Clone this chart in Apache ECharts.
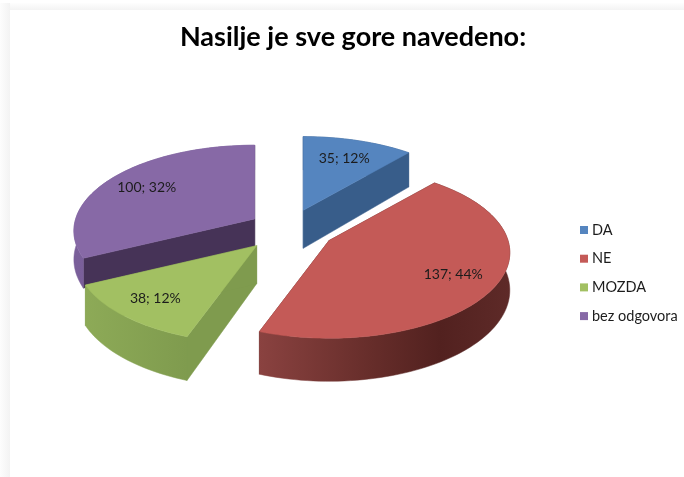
<!DOCTYPE html>
<html>
<head>
<meta charset="utf-8">
<style>html,body{margin:0;padding:0;background:#fff}#c{width:684px;height:477px}</style>
<script src="https://cdn.jsdelivr.net/npm/echarts@6/dist/echarts.min.js"></script>
</head>
<body>
<div id="c"></div>
<script>
const categories = ['DA', 'NE', 'MOZDA', 'bez odgovora'];
const values = [35, 137, 38, 100];
const percents = ['12%', '44%', '12%', '32%'];
const topColors = ['#5585BF', '#C45A57', '#A2C062', '#8769A6'];
const wallColors = ['#385D8A', '#5A2523', '#7F9B4E', '#463357'];
const outerStops = [
  [[0, '#385D8A'], [1, '#385D8A']],
  [[0, '#8A4240'], [0.45, '#662D2A'], [0.72, '#52211F'], [1, '#5E2A28']],
  [[0, '#8DAA57'], [1, '#7F9B4E']],
  [[0, '#7A5F9A'], [1, '#745A92']]
];
const zOrder = [2, 4, 3, 1];
const thickness = [38, 37, 38, 28];
const labelRadius = [0.72, 0.76, 0.78, 0.75];
const sliceShift = [-1, 2, -3, 3];

const CX = 289, CY = 230, EX = 44, EY = 21;
const R = 179, RQ = 84, P = 0.14;
const total = values.reduce((a, b) => a + b, 0);

function sliceAngles(i) {
  let s = 0;
  for (let k = 0; k < i; k++) s += values[k];
  return [s / total * Math.PI * 2, (s + values[i]) / total * Math.PI * 2];
}
function project(ax, ay, r, t, drop) {
  const d = 1 + P * r * Math.cos(t);
  return [ax + R * r * Math.sin(t) / d, ay - RQ * r * Math.cos(t) / d + drop / d];
}
function arc(ax, ay, a0, a1, drop) {
  const pts = [], n = Math.max(4, Math.ceil((a1 - a0) / 0.03));
  for (let j = 0; j <= n; j++) pts.push(project(ax, ay, 1, a0 + (a1 - a0) * j / n, drop));
  return pts;
}
function renderSlice(i) {
  const [a0, a1] = sliceAngles(i);
  const mid = (a0 + a1) / 2;
  const H = thickness[i];
  const ax = CX + sliceShift[i] + EX * Math.sin(mid), ay = CY - EY * Math.cos(mid);
  const topArc = arc(ax, ay, a0, a1, 0), lowArc = arc(ax, ay, a0, a1, H);
  const apex = [ax, ay], apexLow = [ax, ay + H];
  const poly = (points, fill) => ({ type: 'polygon', shape: { points }, style: { fill, stroke: fill, lineWidth: 0.5 } });
  const lab = project(ax, ay, labelRadius[i], mid, 0);
  return {
    type: 'group',
    children: [
      poly([apex, topArc[0], lowArc[0], apexLow], wallColors[i]),
      poly([apex, topArc[topArc.length - 1], lowArc[lowArc.length - 1], apexLow], wallColors[i]),
      poly(topArc.concat(lowArc.slice().reverse()),
        new echarts.graphic.LinearGradient(0, 0, 1, 0, outerStops[i].map(s => ({ offset: s[0], color: s[1] })))),
      poly([apex].concat(topArc), topColors[i]),
      { type: 'text', style: { x: lab[0], y: lab[1], text: values[i] + '; ' + percents[i], align: 'center', verticalAlign: 'middle',
          fill: '#1c1c1c', font: '14px Lato' } }
    ]
  };
}

const chart = echarts.init(document.getElementById('c'), null, { renderer: 'canvas' });
chart.setOption({
  animation: false,
  backgroundColor: '#ffffff',
  title: {
    text: 'Nasilje je sve gore navedeno:',
    left: 348, top: 19, textAlign: 'center',
    textStyle: { fontFamily: 'Lato', fontWeight: 'bold', fontSize: 27, color: '#000000' }
  },
  legend: {
    orient: 'vertical', left: 575, top: 217,
    icon: 'rect', itemWidth: 8, itemHeight: 8, itemGap: 12.7,
    data: categories,
    selectedMode: false,
    textStyle: { fontFamily: 'Lato', fontSize: 14.5, color: '#1c1c1c', padding: [0, 0, 0, -1], lineHeight: 16 }
  },
  graphic: [
    { type: 'rect', silent: true, z: -1, shape: { x: 0, y: 3, width: 10, height: 474 },
      style: { fill: new echarts.graphic.LinearGradient(0, 0, 1, 0, [{ offset: 0, color: '#fdfdfd' }, { offset: 1, color: '#f3f3f3' }]) } },
    { type: 'rect', silent: true, z: -1, shape: { x: 10, y: 3, width: 674, height: 7 },
      style: { fill: new echarts.graphic.LinearGradient(0, 0, 0, 1, [{ offset: 0, color: '#fefefe' }, { offset: 1, color: '#f3f3f3' }]) } }
  ],
  series: categories.map((name, i) => ({
    type: 'custom',
    name,
    coordinateSystem: 'none',
    silent: true,
    z: zOrder[i],
    itemStyle: { color: topColors[i] },
    data: [values[i]],
    renderItem: () => renderSlice(i)
  }))
});
</script>
</body>
</html>
